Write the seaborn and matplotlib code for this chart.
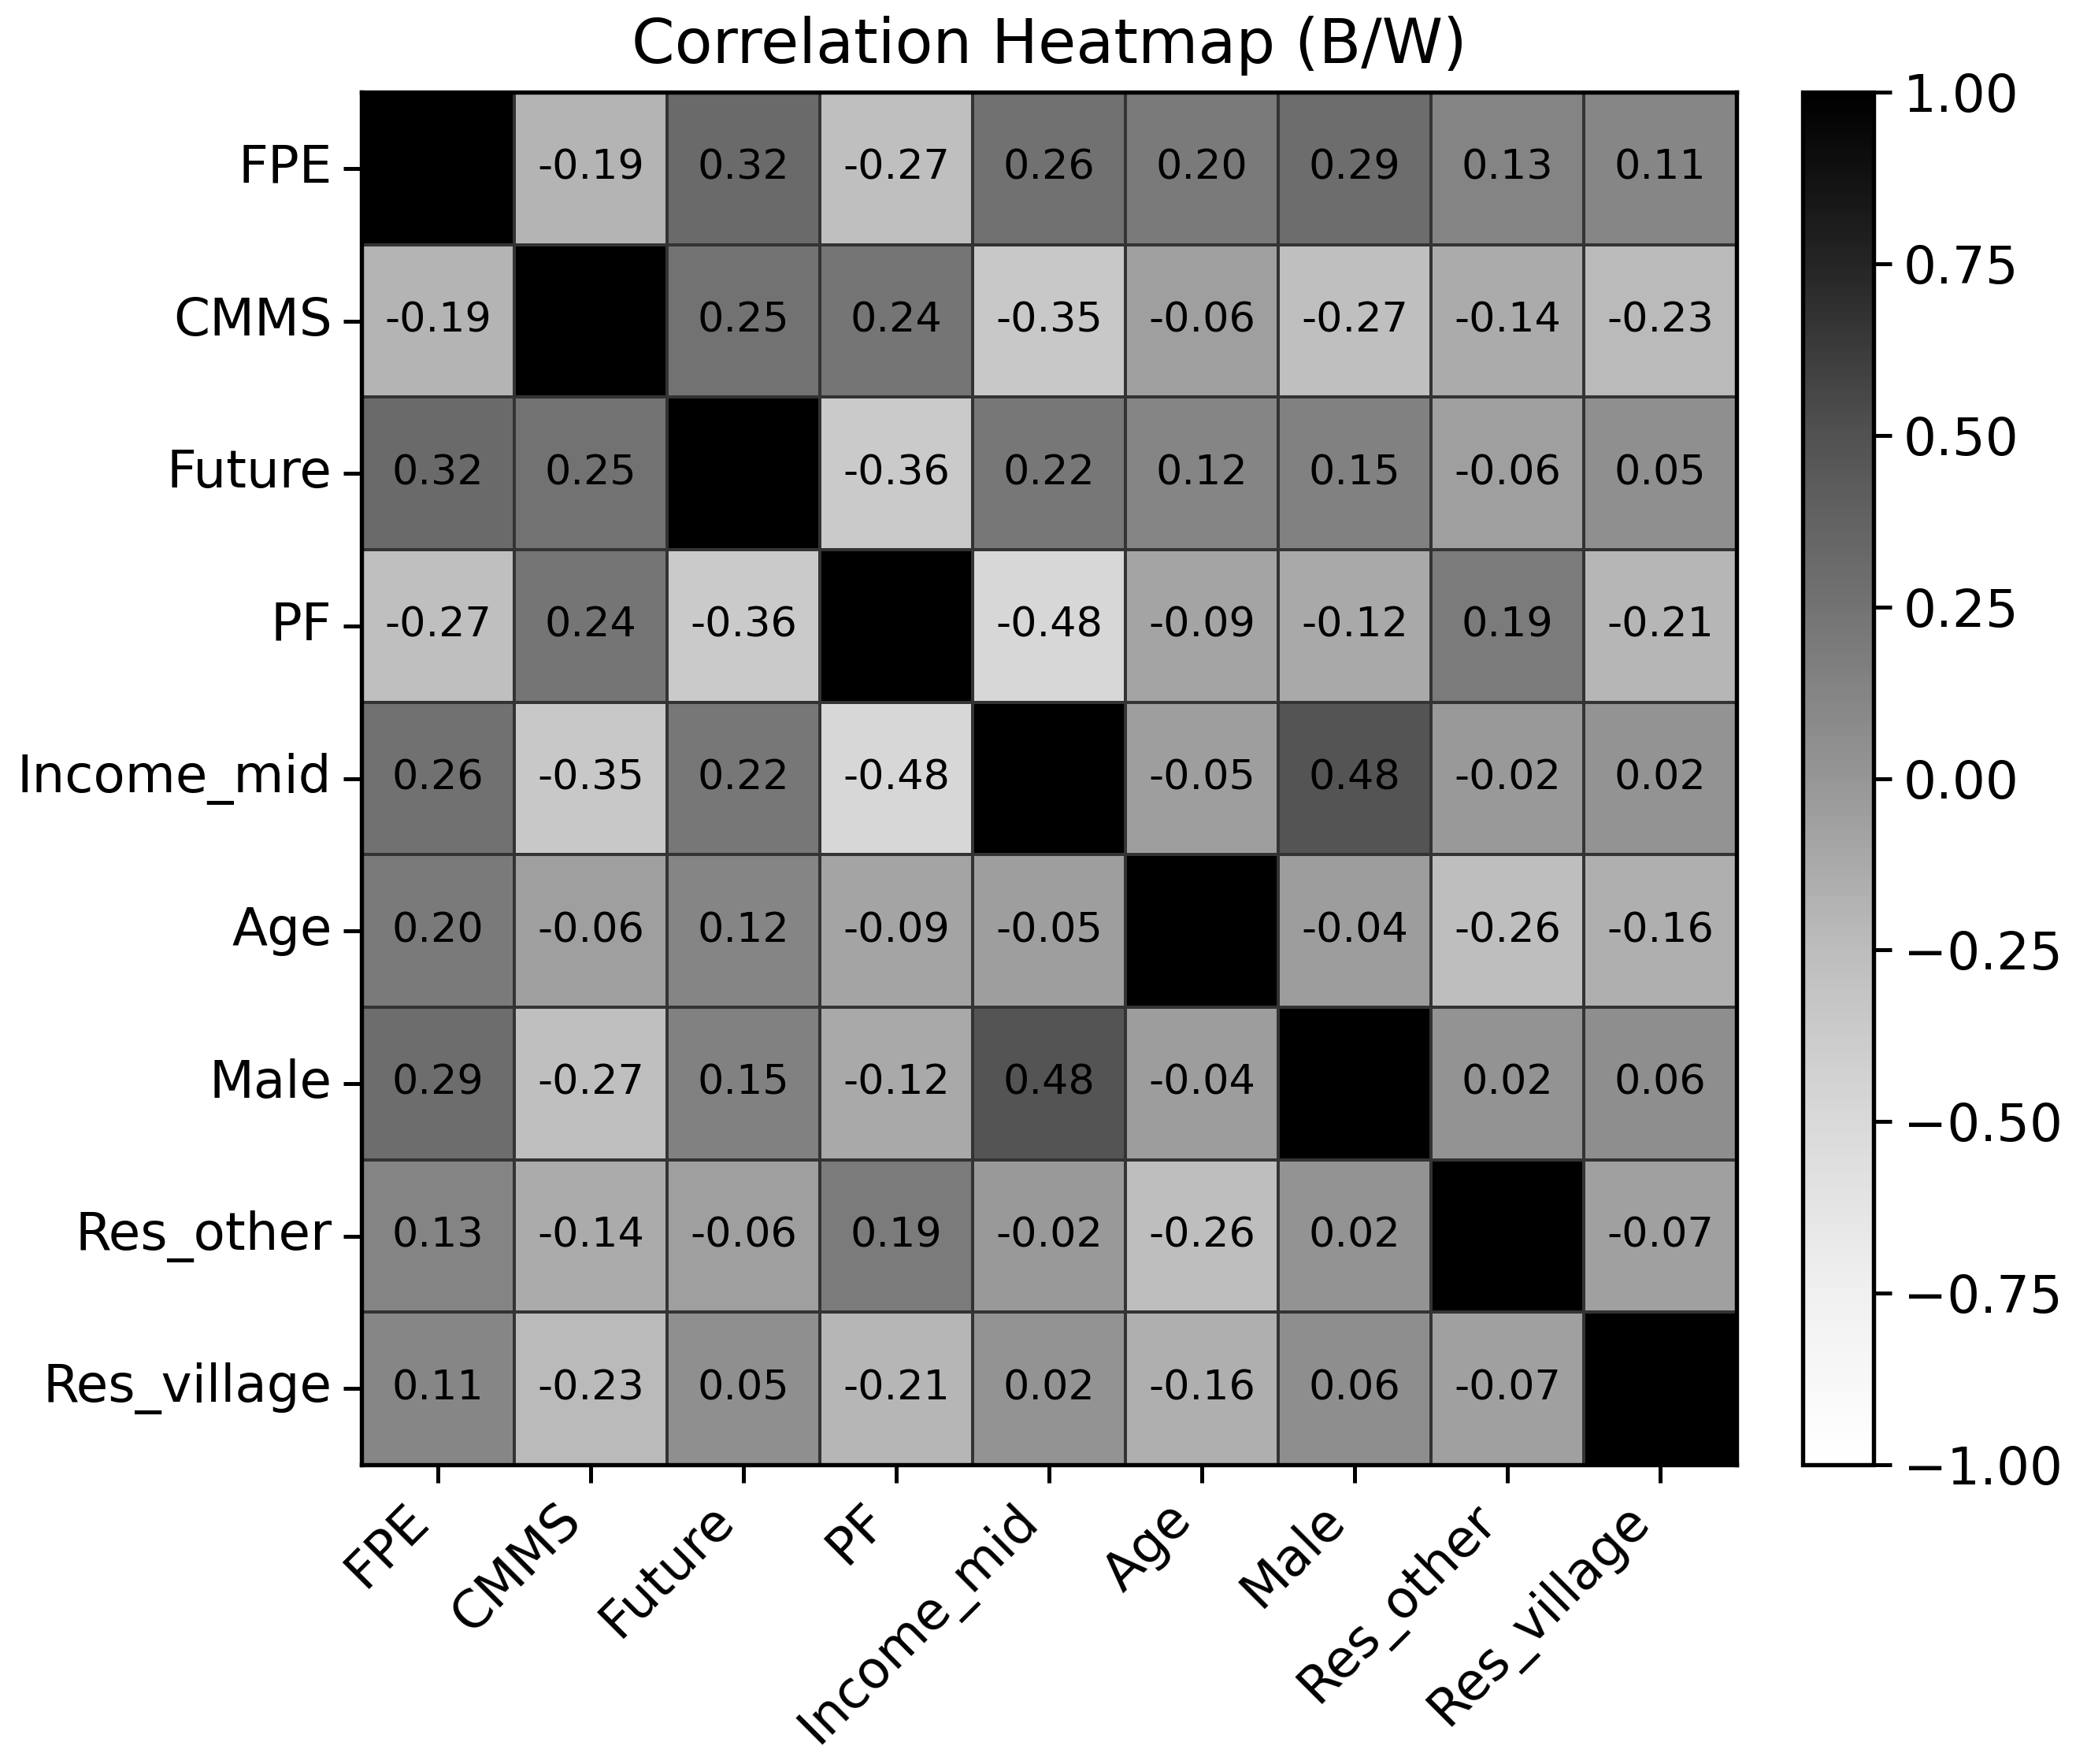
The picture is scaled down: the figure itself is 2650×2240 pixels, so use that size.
import matplotlib
matplotlib.use("Agg")
import matplotlib.pyplot as plt
import seaborn as sns
import pandas as pd

# Variables del mapa de correlación
variables = ['FPE', 'CMMS', 'Future', 'PF', 'Income_mid', 'Age', 'Male',
             'Res_other', 'Res_village']

fila_fpe = [1.00, -0.19, 0.32, -0.27, 0.26, 0.20, 0.29, 0.13, 0.11]
fila_cmms = [-0.19, 1.00, 0.25, 0.24, -0.35, -0.06, -0.27, -0.14, -0.23]
fila_future = [0.32, 0.25, 1.00, -0.36, 0.22, 0.12, 0.15, -0.06, 0.05]
fila_pf = [-0.27, 0.24, -0.36, 1.00, -0.48, -0.09, -0.12, 0.19, -0.21]
fila_income = [0.26, -0.35, 0.22, -0.48, 1.00, -0.05, 0.48, -0.02, 0.02]
fila_age = [0.20, -0.06, 0.12, -0.09, -0.05, 1.00, -0.04, -0.26, -0.16]
fila_male = [0.29, -0.27, 0.15, -0.12, 0.48, -0.04, 1.00, 0.02, 0.06]
fila_res_other = [0.13, -0.14, -0.06, 0.19, -0.02, -0.26, 0.02, 1.00, -0.07]
fila_res_village = [0.11, -0.23, 0.05, -0.21, 0.02, -0.16, 0.06, -0.07, 1.00]

corr = pd.DataFrame(
    [fila_fpe, fila_cmms, fila_future, fila_pf, fila_income, fila_age,
     fila_male, fila_res_other, fila_res_village],
    index=variables, columns=variables
)

# --- GRÁFICO ---
fig = plt.figure(figsize=(2650 / 300, 2240 / 300), dpi=300)
ax = fig.add_axes([0.1732, 0.1696, 0.6589, 0.7781])
cax = fig.add_axes([0.8638, 0.1696, 0.0340, 0.7781])

sns.heatmap(
    corr, ax=ax, cbar_ax=cax,
    cmap='Greys', vmin=-1, vmax=1,
    annot=True, fmt='.2f',
    annot_kws={'color': 'black', 'fontsize': 12.6},
    linewidths=0.5, linecolor='#333333'
)

ax.set_title('Correlation Heatmap (B/W)', fontsize=18.8, pad=9)
ax.tick_params(axis='both', labelsize=15.8, length=5.5, width=1.2)
plt.setp(ax.get_xticklabels(), rotation=45, ha='right')
plt.setp(ax.get_yticklabels(), rotation=0)

for spine in ax.spines.values():
    spine.set_visible(True)
    spine.set_linewidth(1.3)
    spine.set_color('black')

cbar = ax.collections[0].colorbar
cbar.outline.set_visible(True)
cbar.outline.set_linewidth(1.3)
cbar.outline.set_edgecolor('black')
cbar.set_ticks([-1, -0.75, -0.5, -0.25, 0, 0.25, 0.5, 0.75, 1])
cbar.ax.tick_params(labelsize=15.8, length=5.5, width=1.2)
cbar.ax.yaxis.set_major_formatter(matplotlib.ticker.StrMethodFormatter('{x:.2f}'))

fig.savefig('out.png', dpi=300)
